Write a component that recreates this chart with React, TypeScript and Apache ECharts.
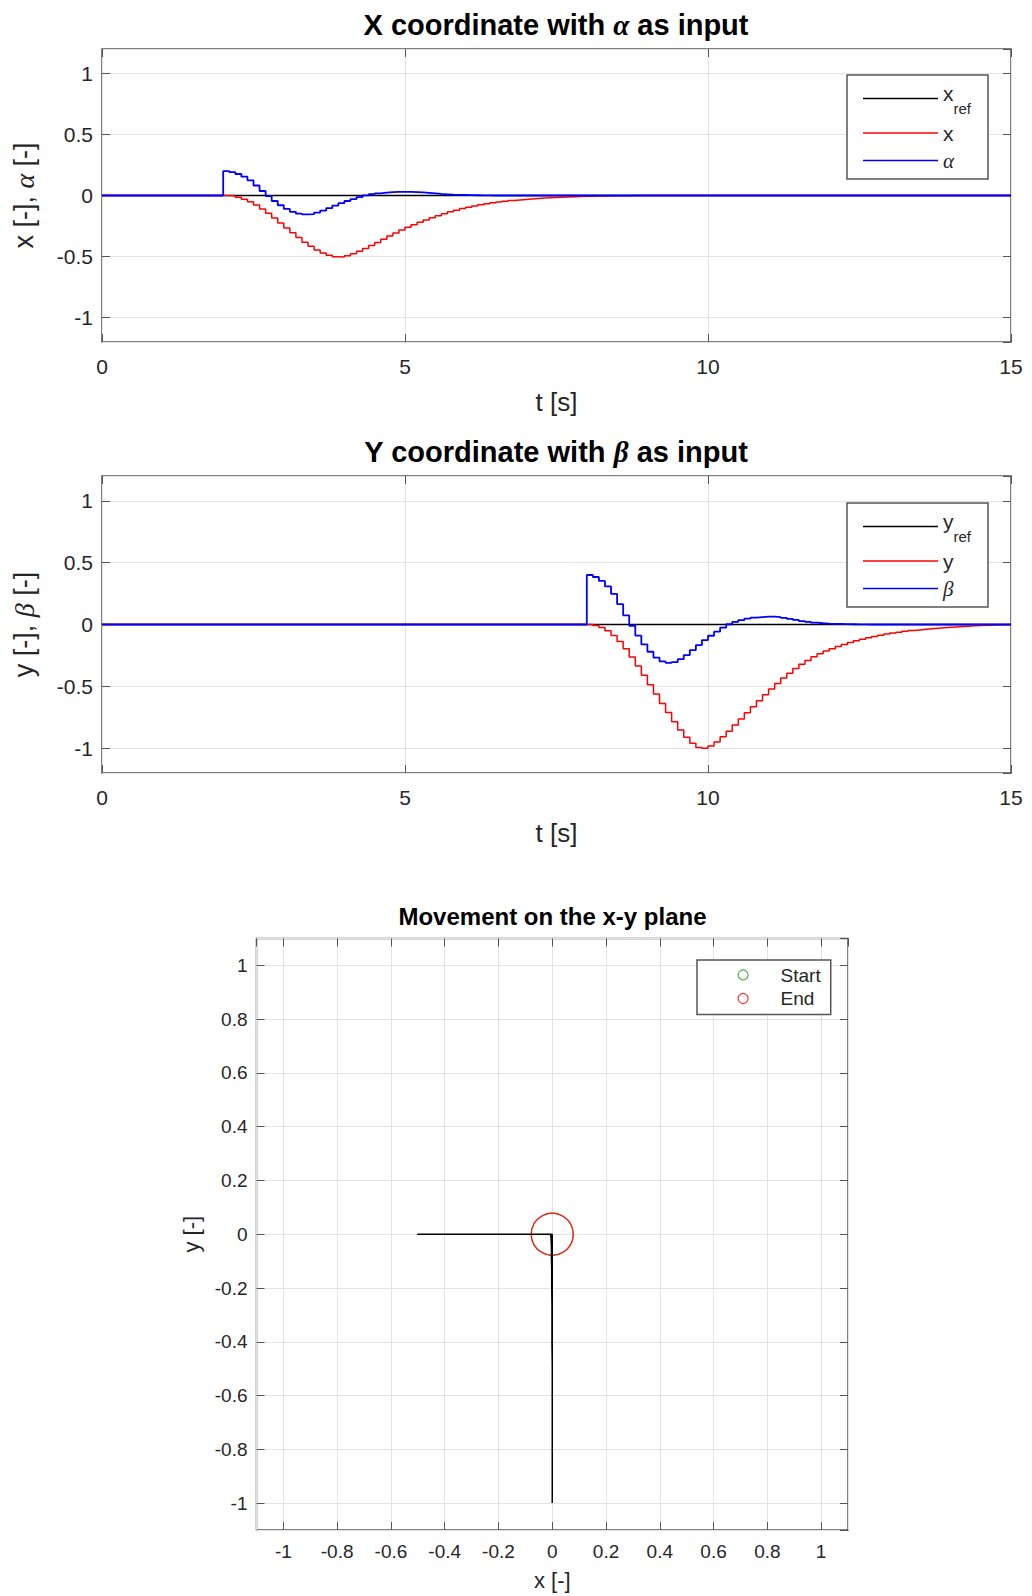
import React, { useEffect, useRef } from "react";
import * as echarts from "echarts";

// Simulation sampling (zero-order hold)
const SAMPLE_TIME = 0.1;
const T_END = 15;

// Reference positions (held constant over the whole run)
const X_REF = 0;
const Y_REF = 0;

// X loop: samples listed from the instant the disturbance starts (t = 2 s)
const X_START = 2.0;
const xValues = [
  0.0, -0.005, -0.015, -0.03, -0.051, -0.078, -0.11, -0.146, -0.185, -0.225,
  -0.266, -0.306, -0.345, -0.382, -0.416, -0.446, -0.471, -0.49, -0.502, -0.503,
  -0.494, -0.478, -0.457, -0.434, -0.41, -0.385, -0.358, -0.332, -0.307, -0.283,
  -0.26, -0.239, -0.219, -0.2, -0.182, -0.165, -0.149, -0.134, -0.12, -0.107,
  -0.096, -0.085, -0.076, -0.067, -0.06, -0.053, -0.047, -0.041, -0.036, -0.032,
  -0.028, -0.024, -0.021, -0.018, -0.016, -0.014, -0.012, -0.01, -0.008, -0.007,
  -0.006, -0.005, -0.004, -0.003, -0.003, -0.002, -0.002, -0.001, -0.001, -0.001,
  0.0,
];
const alphaValues = [
  0.2, 0.192, 0.176, 0.154, 0.124, 0.082, 0.037, -0.005, -0.045, -0.08,
  -0.11, -0.134, -0.149, -0.155, -0.152, -0.14, -0.124, -0.104, -0.083, -0.063,
  -0.045, -0.029, -0.013, 0.001, 0.011, 0.018, 0.023, 0.027, 0.029, 0.03,
  0.03, 0.028, 0.025, 0.021, 0.017, 0.013, 0.01, 0.007, 0.005, 0.004,
  0.003, 0.002, 0.001, 0.001, 0.0,
];

// Y loop: samples listed from t = 8 s
const Y_START = 8.0;
const yValues = [
  0.0, -0.008, -0.024, -0.05, -0.088, -0.137, -0.195, -0.262, -0.335, -0.41,
  -0.486, -0.562, -0.638, -0.712, -0.785, -0.852, -0.912, -0.96, -0.993, -1.0,
  -0.982, -0.95, -0.908, -0.862, -0.813, -0.764, -0.714, -0.665, -0.616, -0.568,
  -0.521, -0.476, -0.433, -0.393, -0.356, -0.322, -0.29, -0.261, -0.236, -0.215,
  -0.196, -0.178, -0.161, -0.146, -0.132, -0.119, -0.107, -0.096, -0.086, -0.077,
  -0.069, -0.062, -0.055, -0.049, -0.044, -0.039, -0.034, -0.03, -0.026, -0.023,
  -0.02, -0.017, -0.014, -0.011, -0.009, -0.007, -0.005, -0.003, -0.002, -0.001,
  0.0,
];
const betaValues = [
  0.4, 0.384, 0.352, 0.308, 0.248, 0.164, 0.074, -0.01, -0.09, -0.16,
  -0.22, -0.268, -0.298, -0.31, -0.304, -0.28, -0.247, -0.207, -0.166, -0.126,
  -0.091, -0.058, -0.026, 0.002, 0.022, 0.036, 0.047, 0.055, 0.06, 0.063,
  0.063, 0.06, 0.054, 0.046, 0.037, 0.028, 0.021, 0.015, 0.01, 0.007,
  0.005, 0.004, 0.003, 0.002, 0.001, 0.001, 0.0,
];

const FONT = "'Liberation Sans', Arial, Helvetica, sans-serif";
const GREEK_FONT = "'Liberation Serif', 'DejaVu Serif', serif";
const TEXT_COLOR = "#262626";
const FRAME_COLOR = "#555555";
const GRID_COLOR = "#e3e3e3";
const GREEK = ["α", "β"];

const sampleCount = Math.round(T_END / SAMPLE_TIME) + 1;
const times = Array.from({ length: sampleCount }, (_, i) =>
  Number((i * SAMPLE_TIME).toFixed(1))
);

function heldSignal(start: number, values: number[]): number[] {
  const offset = Math.round(start / SAMPLE_TIME);
  return times.map((_, i) => {
    const k = i - offset;
    return k >= 0 && k < values.length ? values[k] : 0;
  });
}

const xSig = heldSignal(X_START, xValues);
const alphaSig = heldSignal(X_START, alphaValues);
const ySig = heldSignal(Y_START, yValues);
const betaSig = heldSignal(Y_START, betaValues);

const pairs = (sig: number[]) => times.map((t, i) => [t, sig[i]]);
const pathXY = times.map((_, i) => [xSig[i], ySig[i]]);
const startPoint = [[xSig[0], ySig[0]]];
const endPoint = [[xSig[sampleCount - 1], ySig[sampleCount - 1]]];

function legendLabel(name: string): string {
  const [base, sub] = name.split("_");
  const main = GREEK.includes(base) ? `{g|${base}}` : sub ? `{bs|${base}}` : `{b|${base}}`;
  return sub ? `${main}{s|${sub}}` : main;
}

const legendRich = {
  b: { fontSize: 21, lineHeight: 22, fontFamily: FONT, color: TEXT_COLOR },
  bs: { fontSize: 21, lineHeight: 22, fontFamily: FONT, color: TEXT_COLOR, padding: [0, 0, 10, 0] },
  s: { fontSize: 15, lineHeight: 15, fontFamily: FONT, color: TEXT_COLOR, padding: [20, 0, 0, 0] },
  g: { fontSize: 21, lineHeight: 22, fontFamily: GREEK_FONT, fontStyle: "italic", color: TEXT_COLOR },
};

const tick = { inside: true, length: 8, lineStyle: { color: FRAME_COLOR, width: 1 } };
const hiddenLine = { show: false, onZero: false };

function timeAxes(gridIndex: number) {
  return [
    {
      type: "value",
      gridIndex,
      position: "bottom",
      min: 0,
      max: T_END,
      interval: 5,
      axisLine: hiddenLine,
      axisTick: tick,
      splitLine: { show: true, lineStyle: { color: GRID_COLOR, width: 1 } },
      axisLabel: { fontSize: 21, color: TEXT_COLOR, margin: 14, fontFamily: FONT },
      name: "t [s]",
      nameLocation: "middle",
      nameGap: 47,
      nameTextStyle: { fontSize: 26, color: TEXT_COLOR, fontFamily: FONT },
    },
    {
      type: "value",
      gridIndex,
      position: "top",
      min: 0,
      max: T_END,
      interval: 5,
      axisLine: hiddenLine,
      axisTick: tick,
      splitLine: { show: false },
      axisLabel: { show: false },
    },
  ];
}

function signalAxes(gridIndex: number, name: string) {
  return [
    {
      type: "value",
      gridIndex,
      position: "left",
      min: -1.2,
      max: 1.2,
      splitNumber: 5,
      axisLine: hiddenLine,
      axisTick: tick,
      splitLine: { show: true, lineStyle: { color: GRID_COLOR, width: 1 } },
      axisLabel: {
        fontSize: 21,
        color: TEXT_COLOR,
        margin: 9,
        fontFamily: FONT,
        showMinLabel: false,
        showMaxLabel: false,
      },
      name,
      nameLocation: "middle",
      nameGap: 64,
      nameTextStyle: {
        fontSize: 27,
        color: TEXT_COLOR,
        fontFamily: FONT,
        rich: { g: { fontSize: 28, fontFamily: GREEK_FONT, fontStyle: "italic", color: TEXT_COLOR } },
      },
    },
    {
      type: "value",
      gridIndex,
      position: "right",
      min: -1.2,
      max: 1.2,
      splitNumber: 5,
      axisLine: hiddenLine,
      axisTick: tick,
      splitLine: { show: false },
      axisLabel: { show: false },
    },
  ];
}

function planeAxis(gridIndex: number, position: string, name?: string) {
  const primary = position === "bottom" || position === "left";
  return {
    type: "value",
    gridIndex,
    position,
    min: -1.1,
    max: 1.1,
    splitNumber: 11,
    axisLine: hiddenLine,
    axisTick: tick,
    splitLine: { show: primary, lineStyle: { color: GRID_COLOR, width: 1 } },
    axisLabel: primary
      ? {
          fontSize: 19,
          color: TEXT_COLOR,
          margin: position === "bottom" ? 12 : 9,
          fontFamily: FONT,
          showMinLabel: false,
          showMaxLabel: false,
        }
      : { show: false },
    name: primary ? name : undefined,
    nameLocation: "middle",
    nameGap: position === "bottom" ? 39 : 54,
    nameTextStyle: { fontSize: 22, color: TEXT_COLOR, fontFamily: FONT },
  };
}

function lineSeries(name: string, data: number[][], color: string, axis: number, width = 1.5) {
  return {
    type: "line",
    name,
    data,
    xAxisIndex: axis,
    yAxisIndex: axis,
    step: "end",
    symbol: "none",
    silent: true,
    lineStyle: { color, width },
    itemStyle: { color },
  };
}

function signalLegend(top: number, names: string[]) {
  return {
    data: names.map((name) => ({ name, icon: "rect" })),
    orient: "vertical",
    left: 847,
    top,
    itemWidth: 75,
    itemHeight: 1.5,
    symbolKeepAspect: false,
    itemGap: 6.5,
    padding: [6, 17, 8, 16],
    borderColor: FRAME_COLOR,
    borderWidth: 1.5,
    backgroundColor: "#ffffff",
    selectedMode: false,
    formatter: legendLabel,
    textStyle: { fontSize: 21, color: TEXT_COLOR, fontFamily: FONT, rich: legendRich },
  };
}

const START_COLOR = "#1fa01f";
const END_COLOR = "#ff0000";

function plotTitle(text: string, left: number, top: number, size: number, greek?: boolean) {
  return {
    text,
    left,
    top,
    textAlign: "center",
    textVerticalAlign: "middle",
    padding: 0,
    textStyle: {
      fontSize: size,
      fontWeight: "bold",
      color: "#000000",
      fontFamily: FONT,
      rich: greek
        ? { g: { fontSize: size, fontFamily: GREEK_FONT, fontStyle: "italic", color: "#000000" } }
        : undefined,
    },
  };
}

const option = {
  animation: false,
  backgroundColor: "#ffffff",
  textStyle: { fontFamily: FONT },
  title: [
    plotTitle("X coordinate with {g|α} as input", 556, 25, 29, true),
    plotTitle("Y coordinate with {g|β} as input", 556, 452, 29, true),
    plotTitle("Movement on the x-y plane", 552.5, 916, 24),
  ],
  grid: [
    { left: 102, top: 49, width: 909, height: 293 },
    { left: 102, top: 476, width: 909, height: 297 },
    { left: 256.5, top: 938.5, width: 591.5, height: 591.5 },
  ].map((g) => ({
    ...g,
    show: true,
    borderColor: FRAME_COLOR,
    borderWidth: 1.5,
    backgroundColor: "#ffffff",
    containLabel: false,
  })),
  xAxis: [
    ...timeAxes(0),
    ...timeAxes(1),
    planeAxis(2, "bottom", "x [-]"),
    planeAxis(2, "top"),
  ],
  yAxis: [
    ...signalAxes(0, "x [-], {g|α} [-]"),
    ...signalAxes(1, "y [-], {g|β} [-]"),
    planeAxis(2, "left", "y [-]"),
    planeAxis(2, "right"),
  ],
  legend: [
    signalLegend(75, ["x_ref", "x", "α"]),
    signalLegend(503, ["y_ref", "y", "β"]),
    {
      data: [
        { name: "Start", icon: "circle", itemStyle: { color: "rgba(0,0,0,0)", borderColor: START_COLOR, borderWidth: 1.2 } },
        { name: "End", icon: "circle", itemStyle: { color: "rgba(0,0,0,0)", borderColor: END_COLOR, borderWidth: 1.2 } },
      ],
      orient: "vertical",
      left: 697,
      top: 960,
      itemWidth: 65,
      itemHeight: 10,
      itemGap: 3.5,
      padding: [5, 10, 6, 40.5],
      borderColor: FRAME_COLOR,
      borderWidth: 1.5,
      backgroundColor: "#ffffff",
      selectedMode: false,
      textStyle: { fontSize: 19, lineHeight: 20, color: TEXT_COLOR, fontFamily: FONT },
    },
  ],
  series: [
    lineSeries("x_ref", times.map((t) => [t, X_REF]), "#000000", 0),
    lineSeries("x", pairs(xSig), "#ff0000", 0),
    lineSeries("α", pairs(alphaSig), "#0000ff", 0, 1.8),
    lineSeries("y_ref", times.map((t) => [t, Y_REF]), "#000000", 2),
    lineSeries("y", pairs(ySig), "#ff0000", 2),
    lineSeries("β", pairs(betaSig), "#0000ff", 2, 1.8),
    {
      type: "line",
      name: "path",
      data: pathXY,
      xAxisIndex: 4,
      yAxisIndex: 4,
      symbol: "none",
      silent: true,
      lineStyle: { color: "#000000", width: 1.5 },
    },
    {
      type: "scatter",
      name: "Start",
      data: startPoint,
      xAxisIndex: 4,
      yAxisIndex: 4,
      symbol: "circle",
      symbolSize: 42,
      silent: true,
      itemStyle: { color: "rgba(0,0,0,0)", borderColor: START_COLOR, borderWidth: 1 },
    },
    {
      type: "scatter",
      name: "End",
      data: endPoint,
      xAxisIndex: 4,
      yAxisIndex: 4,
      symbol: "circle",
      symbolSize: 42,
      silent: true,
      itemStyle: { color: "rgba(0,0,0,0)", borderColor: END_COLOR, borderWidth: 1.5 },
    },
  ],
};

export default function App() {
  const ref = useRef<HTMLDivElement>(null);
  useEffect(() => {
    if (!ref.current) return;
    const chart = echarts.init(ref.current, undefined, { renderer: "svg" });
    chart.setOption(option as any);
    return () => chart.dispose();
  }, []);
  return (
    <div
      ref={ref}
      style={{ position: "absolute", left: 0, top: 0, width: 1032, height: 1596, background: "#fff" }}
    />
  );
}
